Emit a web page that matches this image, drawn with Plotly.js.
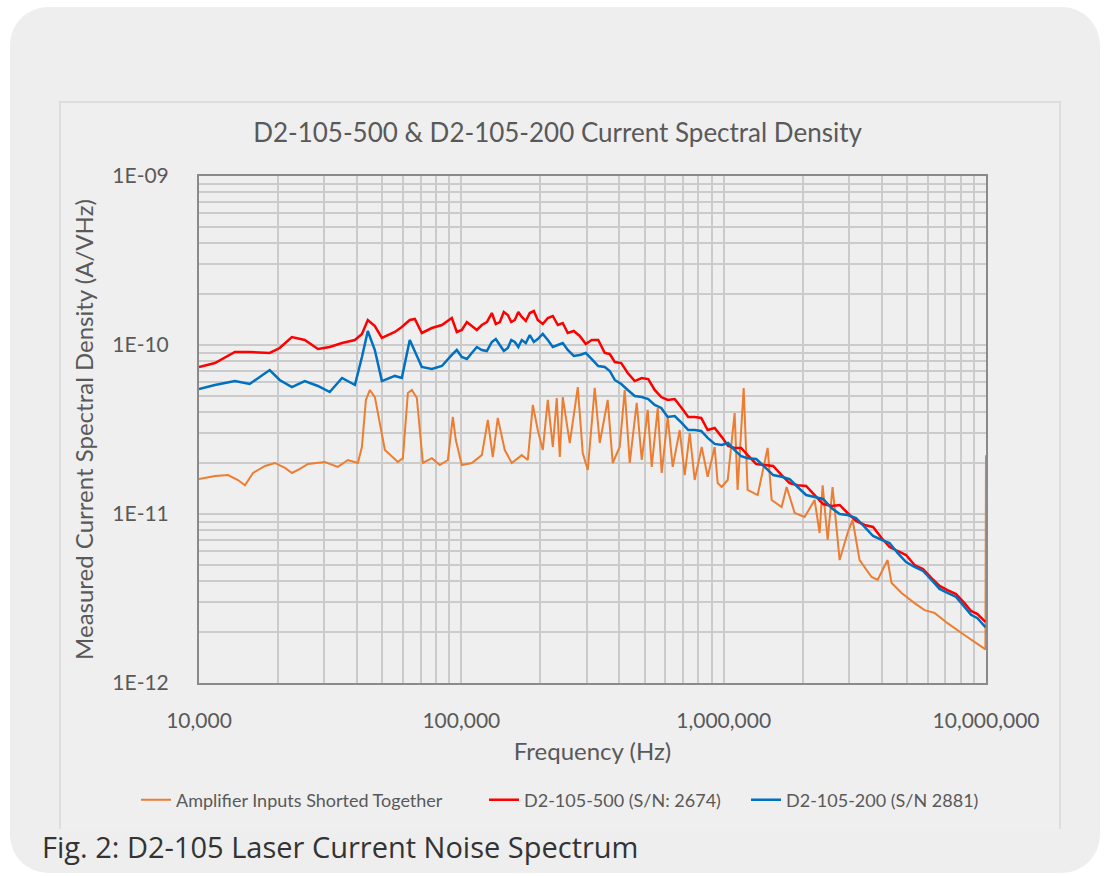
<!DOCTYPE html>
<html>
<head>
<meta charset="utf-8">
<script src="https://cdn.plot.ly/plotly-3.0.1.min.js"></script>
<style>
  html, body { margin:0; padding:0; background:#ffffff; }
  #wrap { position:relative; width:1104px; height:876px; overflow:hidden; }
  #card { position:absolute; left:10px; top:7px; width:1090px; height:866px; background:#eeeeee; border-radius:38px; }
  #box { position:absolute; left:59px; top:101px; width:998px; height:726px; border:2px solid #dddddd; border-bottom:none; background:#efefef; }
  #chart { position:absolute; left:0; top:0; width:1104px; height:876px; }
</style>
</head>
<body>
<div id="wrap">
  <div id="card"></div>
  <div id="box"></div>
  <div id="chart"></div>
</div>
<script>
// ---- Data ----
const seriesNames = ["Amplifier Inputs Shorted Together", "D2-105-500 (S/N: 2674)", "D2-105-200 (S/N 2881)"];

// shared frequency grid (Hz) for the two laser driver curves
const freqDriver = [
  10000, 11500, 13700, 15600, 18600, 20300, 22600, 25300, 28400, 31500, 35100, 39300, 41800, 44000, 46800, 49800,
  55800, 59300, 63600, 66500, 70700, 77200, 84300,
  92000, 96100, 100400, 105000, 109600, 114600, 119700, 125100, 130700, 135300,
  140200, 145200, 150400, 155000, 159900, 164900, 170000, 176100, 182400, 188900,
  195600, 204400, 213600, 223200, 233200, 243600, 254500, 268300, 282800, 298100,
  314200, 332500, 352200, 367900, 384500, 407000, 430900, 458100, 487200, 515700,
  545900, 578000, 611900, 650700, 691800, 732700, 775100, 821000, 869000, 924000,
  982600, 1040000, 1101000, 1166000, 1234000, 1330000, 1433000, 1544000, 1663000, 1784000,
  1914000, 2062000, 2222000, 2393000, 2579000, 2767000, 2968000, 3197000, 3445000, 3711000,
  3999000, 4290000, 4601000, 4957000, 5341000, 5754000, 6200000, 6652000, 7134000, 7688000,
  8281000, 8770000, 9282000, 9950000];

// D2-105-500 (red), A/sqrt(Hz)
const densityD2_500 = [
  7.41e-11, 7.82e-11, 9.09e-11, 9.09e-11, 8.97e-11, 9.60e-11, 1.115e-10, 1.07e-10, 9.47e-11, 9.73e-11, 1.027e-10, 1.07e-10, 1.162e-10, 1.406e-10, 1.295e-10, 1.10e-10,
  1.194e-10, 1.278e-10, 1.406e-10, 1.425e-10, 1.178e-10, 1.26e-10, 1.313e-10,
  1.445e-10, 1.194e-10, 1.227e-10, 1.368e-10, 1.295e-10, 1.227e-10, 1.313e-10, 1.368e-10, 1.546e-10, 1.331e-10,
  1.368e-10, 1.567e-10, 1.505e-10, 1.368e-10, 1.406e-10, 1.567e-10, 1.465e-10, 1.387e-10, 1.546e-10, 1.589e-10,
  1.406e-10, 1.331e-10, 1.445e-10, 1.485e-10, 1.313e-10, 1.349e-10, 1.178e-10, 1.21e-10, 1.131e-10, 1.014e-10,
  1.07e-10, 1.07e-10, 8.97e-11, 8.85e-11, 7.93e-11, 7.82e-11, 6.83e-11, 6.12e-11, 6.38e-11, 6.29e-11,
  5.42e-11, 4.92e-11, 4.73e-11, 4.79e-11, 4.24e-11, 3.75e-11, 3.75e-11, 3.70e-11, 3.14e-11, 3.23e-11,
  2.86e-11, 2.53e-11, 2.46e-11, 2.46e-11, 2.23e-11, 1.977e-11, 1.95e-11, 1.923e-11, 1.70e-11, 1.525e-11,
  1.48e-11, 1.465e-11, 1.295e-11, 1.146e-11, 1.115e-11, 1.131e-11, 1.014e-11, 9.09e-12, 8.61e-12, 8.38e-12,
  7.21e-12, 6.38e-12, 6.04e-12, 5.72e-12, 4.99e-12, 4.73e-12, 4.18e-12, 3.75e-12, 3.55e-12, 3.36e-12,
  2.97e-12, 2.667e-12, 2.56e-12, 2.30e-12];

// D2-105-200 (blue), A/sqrt(Hz)
const densityD2_200 = [
  5.49e-11, 5.80e-11, 6.12e-11, 5.88e-11, 7.11e-11, 6.21e-11, 5.64e-11, 6.12e-11, 5.72e-11, 5.27e-11, 6.38e-11, 5.80e-11, 8.49e-11, 1.21e-10, 9.34e-11, 6.12e-11,
  6.56e-11, 6.38e-11, 1.07e-10, 9.09e-11, 7.41e-11, 7.21e-11, 7.51e-11,
  8.73e-11, 9.34e-11, 8.49e-11, 8.26e-11, 8.97e-11, 9.73e-11, 9.34e-11, 9.21e-11, 1.042e-10, 1.085e-10,
  1.0e-10, 9.21e-11, 9.60e-11, 1.07e-10, 1.042e-10, 9.73e-11, 1.07e-10, 1.027e-10, 1.146e-10, 1.042e-10,
  1.085e-10, 1.162e-10, 1.07e-10, 9.73e-11, 1.0e-10, 1.027e-10, 9.34e-11, 8.61e-11, 8.73e-11, 8.97e-11,
  8.26e-11, 7.51e-11, 7.41e-11, 7.02e-11, 6.21e-11, 5.88e-11, 5.42e-11, 4.99e-11, 4.92e-11, 4.79e-11,
  4.42e-11, 4.24e-11, 3.75e-11, 3.80e-11, 3.46e-11, 3.14e-11, 3.14e-11, 3.10e-11, 2.82e-11, 2.60e-11,
  2.56e-11, 2.63e-11, 2.39e-11, 2.20e-11, 2.14e-11, 2.115e-11, 1.90e-11, 1.70e-11, 1.66e-11, 1.611e-11,
  1.445e-11, 1.295e-11, 1.26e-11, 1.227e-11, 1.085e-11, 1.0e-11, 9.86e-12, 9.47e-12, 8.38e-12, 7.41e-12,
  7.02e-12, 6.74e-12, 5.88e-12, 5.20e-12, 4.86e-12, 4.60e-12, 4.07e-12, 3.60e-12, 3.41e-12, 3.23e-12,
  2.82e-12, 2.53e-12, 2.42e-12, 2.14e-12];

// Amplifier inputs shorted (orange)
const freqAmp = [10000, 11510, 12900, 14080, 14970, 16060, 17840, 19480, 21270, 22610, 24250, 26010, 30200, 33840, 36950, 40340,
  41780, 43270, 44820, 46820, 51120, 57300, 59860, 62550, 64780, 67670, 71350, 77210, 82810, 88840, 92820, 95280,
  100400, 109600, 119700, 126200, 131800, 137700, 146400, 155700, 170000, 179200, 187300, 195600, 204400, 213600, 223200, 231100,
  237300, 243600, 259000, 277900, 290300, 303300, 322500, 337000, 361400, 377600, 401500, 419600, 438500, 466200, 487200, 513500,
  531800, 560600, 580500, 611900, 639300, 679900, 710500, 742300, 775500, 824600, 869000, 924000, 948700, 982600, 1036000, 1101000,
  1130000, 1192000, 1234000, 1348000, 1471000, 1524000, 1663000, 1738000, 1865000, 2035000, 2222000, 2321000, 2384000, 2491000, 2601000, 2767000,
  2968000, 3101000, 3297000, 3663000, 3862000, 4215000, 4365000, 4766000, 5341000, 5831000, 6366000, 7134000, 8065000, 8808000, 9614000, 9950000, 10000000];
const densityAmp = [1.611e-11, 1.679e-11, 1.70e-11, 1.589e-11, 1.48e-11, 1.748e-11, 1.923e-11, 2.004e-11, 1.872e-11, 1.748e-11, 1.847e-11, 1.977e-11, 2.031e-11, 1.90e-11, 2.087e-11, 2.004e-11,
  2.491e-11, 4.73e-11, 5.42e-11, 4.92e-11, 2.39e-11, 2.031e-11, 2.14e-11, 5.20e-11, 5.42e-11, 4.86e-11, 2.004e-11, 2.14e-11, 1.95e-11, 2.087e-11, 3.75e-11, 2.74e-11,
  1.95e-11, 2.004e-11, 2.23e-11, 3.60e-11, 2.174e-11, 3.70e-11, 2.39e-11, 2.004e-11, 2.23e-11, 2.087e-11, 4.42e-11, 3.14e-11, 2.39e-11, 4.73e-11, 2.491e-11, 4.86e-11,
  2.174e-11, 4.92e-11, 2.63e-11, 5.64e-11, 2.296e-11, 1.822e-11, 5.57e-11, 2.63e-11, 4.73e-11, 2.004e-11, 2.491e-11, 5.42e-11, 2.004e-11, 4.54e-11, 2.087e-11, 4.13e-11,
  1.90e-11, 4.24e-11, 1.748e-11, 3.75e-11, 1.90e-11, 3.14e-11, 1.70e-11, 3.015e-11, 1.589e-11, 2.491e-11, 1.66e-11, 2.491e-11, 1.525e-11, 1.445e-11, 1.589e-11, 3.96e-11,
  1.387e-11, 5.57e-11, 1.387e-11, 1.295e-11, 2.46e-11, 1.21e-11, 1.10e-11, 1.445e-11, 1.014e-11, 9.60e-12, 1.21e-11, 7.72e-12, 1.48e-11, 7.02e-12, 1.445e-11, 5.34e-12,
  7.72e-12, 9.22e-12, 5.34e-12, 4.24e-12, 4.07e-12, 5.34e-12, 3.91e-12, 3.41e-12, 2.97e-12, 2.70e-12, 2.60e-12, 2.26e-12, 1.977e-12, 1.796e-12, 1.633e-12, 1.58e-12, 2.23e-11];

// Axis ticks
const xTickVals = [1e4, 1e5, 1e6, 1e7];
const xTickText = ["10,000", "100,000", "1,000,000", "10,000,000"];
const yTickVals = [1e-12, 1e-11, 1e-10, 1e-9];
const yTickText = ["1E-12", "1E-11", "1E-10", "1E-09"];

// minor gridline positions (2..9 in each decade)
function decadeMinors(startExp, endExp) {
  const out = [];
  for (let e = startExp; e < endExp; e++) for (let m = 2; m <= 9; m++) out.push(m * Math.pow(10, e));
  return out;
}

const gridCol = '#cbcbcb';
const txtCol = '#595959';
const chartFont = 'Lato, "Liberation Sans", sans-serif';

const traces = [
  { x: freqAmp, y: densityAmp, name: seriesNames[0], mode: 'lines', line: { color: '#ED7D31', width: 2 }, legend: 'legend' },
  { x: freqDriver, y: densityD2_500, name: seriesNames[1], mode: 'lines', line: { color: '#FF0000', width: 2.5 }, legend: 'legend2' },
  { x: freqDriver, y: densityD2_200, name: seriesNames[2], mode: 'lines', line: { color: '#0070C0', width: 2.5 }, legend: 'legend3' }
];

const plotL = 199, plotW = 787, plotB = 683, plotH = 507;
function legendAt(px) {
  return { orientation: 'h', x: (px - plotL) / plotW, xanchor: 'left', y: (plotB - 800) / plotH, yanchor: 'middle',
           font: { size: 18, color: txtCol }, bgcolor: 'rgba(0,0,0,0)', itemwidth: 30, itemclick: false };
}

const layout = {
  width: 1104, height: 876,
  paper_bgcolor: 'rgba(0,0,0,0)',
  plot_bgcolor: '#efefef',
  margin: { l: 199, r: 118, t: 176, b: 193 },
  font: { family: chartFont, color: txtCol, size: 20 },
  title: { text: 'D2-105-500 &amp; D2-105-200 Current Spectral Density', x: 0.505, xanchor: 'center', y: 0.848, yanchor: 'middle',
           font: { family: chartFont, size: 26, color: txtCol } },
  xaxis: {
    type: 'log', range: [4, 7],
    tickmode: 'array', tickvals: xTickVals, ticktext: xTickText,
    showgrid: true, gridcolor: gridCol, gridwidth: 2,
    minor: { tickmode: 'array', tickvals: decadeMinors(4, 7), showgrid: true, gridcolor: gridCol, gridwidth: 2, ticks: '' },
    showline: true, linecolor: '#8a8a8a', linewidth: 2, mirror: true,
    ticks: '', ticklabelstandoff: 18,
    tickfont: { size: 21, color: txtCol },
    title: { text: 'Frequency (Hz)', standoff: 12, font: { size: 24, color: txtCol } },
    zeroline: false, automargin: false
  },
  yaxis: {
    type: 'log', range: [-12, -9],
    tickmode: 'array', tickvals: yTickVals, ticktext: yTickText,
    showgrid: true, gridcolor: gridCol, gridwidth: 2,
    minor: { tickmode: 'array', tickvals: decadeMinors(-12, -9), showgrid: true, gridcolor: gridCol, gridwidth: 2, ticks: '' },
    showline: true, linecolor: '#8a8a8a', linewidth: 2, mirror: true,
    ticks: '', ticklabelstandoff: 24,
    tickfont: { size: 21, color: txtCol },
    title: { text: 'Measured Current Spectral Density (A/VHz)', standoff: 12, font: { size: 24, color: txtCol } },
    zeroline: false, automargin: false
  },
  showlegend: true,
  legend: legendAt(136),
  legend2: legendAt(484),
  legend3: legendAt(746),
  annotations: [
    { text: 'Fig. 2: D2-105 Laser Current Noise Spectrum', xref: 'paper', yref: 'paper',
      x: (40 - 199) / 787, xanchor: 'left', y: (683 - 846) / 507, yanchor: 'middle', showarrow: false,
      font: { family: '"Open Sans", "Noto Sans", sans-serif', size: 29, color: '#333333' } }
  ]
};

Plotly.newPlot('chart', traces, layout, { displayModeBar: false, staticPlot: true });
</script>
</body>
</html>
